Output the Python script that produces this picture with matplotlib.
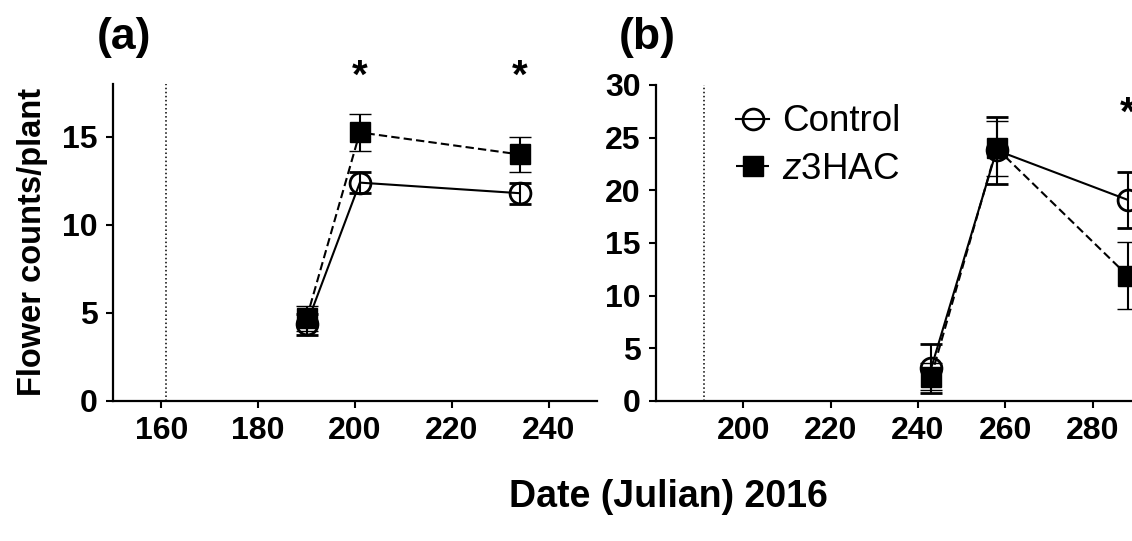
import matplotlib
matplotlib.use("Agg")
import matplotlib.pyplot as plt
from matplotlib.lines import Line2D

plt.rcParams["font.family"] = ["Liberation Sans", "DejaVu Sans"]
plt.rcParams["mathtext.fontset"] = "custom"
plt.rcParams["mathtext.rm"] = "Liberation Sans"
plt.rcParams["mathtext.it"] = "Liberation Sans:italic"

# panel (a) values
a_days = [190, 201, 234]
a_ctrl = [4.35, 12.4, 11.8]
a_ctrl_err = [0.6, 0.6, 0.6]
a_z3 = [4.7, 15.25, 14.0]
a_z3_err = [0.7, 1.05, 1.0]
a_sig_days = [201, 234]
a_start = 161

# panel (b) values
b_days = [243, 258, 288]
b_ctrl = [3.1, 23.8, 19.1]
b_ctrl_err = [2.3, 3.2, 2.65]
b_z3 = [2.3, 24.0, 11.9]
b_z3_err = [1.3, 2.6, 3.2]
b_sig_days = [288]
b_start = 191

W, H = 1132, 541
fig = plt.figure(figsize=(W / 100, H / 100), dpi=100)

ax_a = fig.add_axes([113 / W, 140 / H, 484 / W, 317 / H])
ax_b = fig.add_axes([656 / W, 140 / H, 524 / W, 316 / H])


def style(ax):
    for s in ["top", "right"]:
        ax.spines[s].set_visible(False)
    for s in ["left", "bottom"]:
        ax.spines[s].set_linewidth(1.6)
    ax.tick_params(width=1.5, length=5, labelsize=23, pad=6)
    for lab in ax.get_xticklabels() + ax.get_yticklabels():
        lab.set_fontweight("bold")


ctrl_style = dict(color="black", linestyle="-", linewidth=1.5, marker="o",
                  markersize=15, markerfacecolor="none", markeredgewidth=2)
z3_style = dict(color="black", linestyle=(0, (4, 2)), linewidth=1.5, marker="s",
                markersize=14, markerfacecolor="black", markeredgewidth=1)


def draw(ax, days, ctrl, ctrl_err, z3, z3_err, start):
    ax.axvline(start, color="black", linestyle=":", linewidth=1.1)
    ax.errorbar(days, ctrl, yerr=ctrl_err, capsize=8, capthick=1.5,
                elinewidth=1.5, **ctrl_style)
    ax.errorbar(days, z3, yerr=z3_err, capsize=8, capthick=1.5,
                elinewidth=1.5, **z3_style)


draw(ax_a, a_days, a_ctrl, a_ctrl_err, a_z3, a_z3_err, a_start)
ax_a.set_xlim(150, 250)
ax_a.set_ylim(0, 18)
ax_a.set_xticks([160, 180, 200, 220, 240])
ax_a.set_yticks([0, 5, 10, 15])
style(ax_a)
for d in a_sig_days:
    ax_a.text(d, 18.4, "*", ha="center", va="center", fontsize=29, fontweight="bold")

draw(ax_b, b_days, b_ctrl, b_ctrl_err, b_z3, b_z3_err, b_start)
ax_b.set_xlim(180, 300)
ax_b.set_ylim(0, 30)
ax_b.set_xticks([200, 220, 240, 260, 280])
ax_b.set_yticks([0, 5, 10, 15, 20, 25, 30])
style(ax_b)
for d in b_sig_days:
    ax_b.text(d, 27.3, "*", ha="center", va="center", fontsize=29, fontweight="bold")

handles = [Line2D([], [], **ctrl_style), Line2D([], [], **z3_style)]
labels = ["Control", r"$\mathit{z}$3HAC"]
ax_b.legend(handles, labels, loc="upper left", bbox_to_anchor=(0.125, 0.985),
            frameon=False, fontsize=26.5, handlelength=0.9, handletextpad=0.35,
            labelspacing=0.35, borderaxespad=0)

fig.text(97 / W, 1 - 37 / H, "(a)", fontsize=32, fontweight="bold", va="center")
fig.text(619 / W, 1 - 37 / H, "(b)", fontsize=32, fontweight="bold", va="center")
fig.text(33 / W, 1 - 242 / H, "Flower counts/plant", rotation=90, fontsize=23.5,
         fontweight="bold", ha="center", va="center")
fig.text(668 / W, 1 - 497 / H, "Date (Julian) 2016", fontsize=27,
         fontweight="bold", ha="center", va="center")

fig.savefig("out.png", dpi=100)
